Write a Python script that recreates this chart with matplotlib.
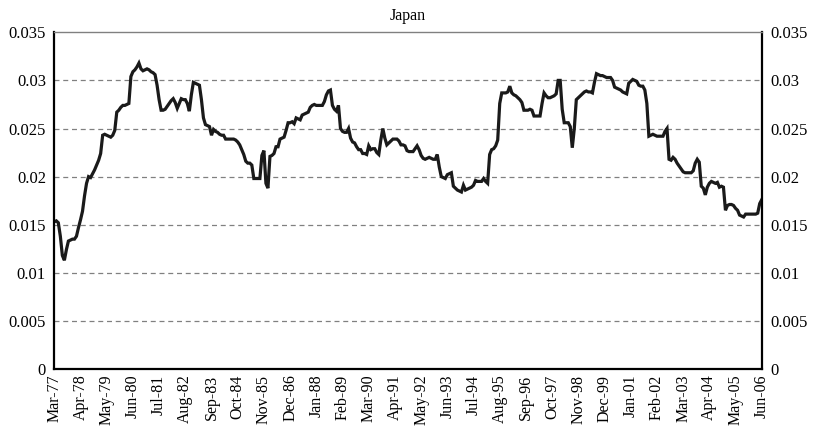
import matplotlib
matplotlib.use("Agg")
import matplotlib.pyplot as plt

# monthly values, Mar-77 .. Jun-06
values = [
    0.0153, 0.0154, 0.0152, 0.0138, 0.0118, 0.0113, 0.0124, 0.0133, 0.0134, 0.0135, 0.0135, 0.0138,
    0.0147, 0.0155, 0.0164, 0.0180, 0.0193, 0.0200, 0.0199, 0.0203, 0.0207, 0.0212, 0.0217, 0.0224,
    0.0243, 0.0244, 0.0243, 0.0242, 0.0241, 0.0243, 0.0248, 0.0267, 0.0269, 0.0272, 0.0274, 0.0274,
    0.0275, 0.0276, 0.0304, 0.0309, 0.0311, 0.0314, 0.0318, 0.0312, 0.0310, 0.0311, 0.0312, 0.0311,
    0.0309, 0.0308, 0.0306, 0.0295, 0.0280, 0.0269, 0.0269, 0.0270, 0.0273, 0.0276, 0.0279, 0.0281,
    0.0277, 0.0271, 0.0276, 0.0281, 0.0280, 0.0280, 0.0276, 0.0268, 0.0285, 0.0298, 0.0297, 0.0296,
    0.0295, 0.0280, 0.0261, 0.0254, 0.0253, 0.0252, 0.0243, 0.0249, 0.0247, 0.0246, 0.0244, 0.0243,
    0.0243, 0.0239, 0.0239, 0.0239, 0.0239, 0.0239, 0.0238, 0.0236, 0.0233, 0.0228, 0.0223, 0.0216,
    0.0214, 0.0214, 0.0212, 0.0198, 0.0198, 0.0198, 0.0198, 0.0222, 0.0227, 0.0193, 0.0188, 0.0221,
    0.0222, 0.0224, 0.0231, 0.0231, 0.0239, 0.0240, 0.0241, 0.0248, 0.0256, 0.0256, 0.0257, 0.0255,
    0.0261, 0.0260, 0.0259, 0.0264, 0.0265, 0.0266, 0.0267, 0.0272, 0.0274, 0.0275, 0.0274, 0.0274,
    0.0274, 0.0274, 0.0278, 0.0285, 0.0289, 0.0290, 0.0274, 0.0270, 0.0268, 0.0274, 0.0250, 0.0247,
    0.0246, 0.0246, 0.0250, 0.0240, 0.0236, 0.0235, 0.0231, 0.0228, 0.0228, 0.0224, 0.0224, 0.0223,
    0.0232, 0.0228, 0.0229, 0.0229, 0.0225, 0.0223, 0.0238, 0.0250, 0.0240, 0.0233, 0.0235, 0.0237,
    0.0239, 0.0239, 0.0239, 0.0237, 0.0233, 0.0233, 0.0232, 0.0227, 0.0226, 0.0226, 0.0226, 0.0229,
    0.0232, 0.0228, 0.0222, 0.0219, 0.0218, 0.0219, 0.0220, 0.0219, 0.0218, 0.0218, 0.0223, 0.0210,
    0.0200, 0.0199, 0.0198, 0.0202, 0.0203, 0.0204, 0.0190, 0.0188, 0.0186, 0.0185, 0.0184, 0.0191,
    0.0186, 0.0187, 0.0188, 0.0189, 0.0191, 0.0196, 0.0195, 0.0195, 0.0195, 0.0198, 0.0195, 0.0193,
    0.0223, 0.0228, 0.0229, 0.0232, 0.0238, 0.0276, 0.0287, 0.0287, 0.0287, 0.0288, 0.0294, 0.0287,
    0.0285, 0.0284, 0.0282, 0.0280, 0.0277, 0.0269, 0.0269, 0.0269, 0.0270, 0.0269, 0.0263, 0.0263,
    0.0263, 0.0263, 0.0276, 0.0287, 0.0284, 0.0282, 0.0282, 0.0283, 0.0284, 0.0286, 0.0300, 0.0300,
    0.0270, 0.0256, 0.0256, 0.0256, 0.0252, 0.0230, 0.0250, 0.0280, 0.0282, 0.0284, 0.0286, 0.0288,
    0.0289, 0.0288, 0.0288, 0.0287, 0.0298, 0.0307, 0.0306, 0.0305, 0.0305, 0.0304, 0.0303, 0.0303,
    0.0303, 0.0300, 0.0293, 0.0292, 0.0291, 0.0290, 0.0288, 0.0287, 0.0286, 0.0297, 0.0299, 0.0301,
    0.0300, 0.0299, 0.0295, 0.0294, 0.0294, 0.0290, 0.0276, 0.0242, 0.0243, 0.0244, 0.0243, 0.0242,
    0.0242, 0.0242, 0.0242, 0.0247, 0.0250, 0.0218, 0.0217, 0.0220, 0.0218, 0.0214, 0.0211, 0.0208,
    0.0205, 0.0204, 0.0204, 0.0204, 0.0204, 0.0206, 0.0214, 0.0218, 0.0215, 0.0190, 0.0188, 0.0181,
    0.0189, 0.0193, 0.0195, 0.0194, 0.0193, 0.0194, 0.0189, 0.0190, 0.0189, 0.0165, 0.0170, 0.0171,
    0.0171, 0.0170, 0.0167, 0.0165, 0.0160, 0.0159, 0.0158, 0.0161, 0.0161, 0.0161, 0.0161, 0.0161,
    0.0161, 0.0162, 0.0172, 0.0176,
]

tick_labels = ["Mar-77", "Apr-78", "May-79", "Jun-80", "Jul-81", "Aug-82", "Sep-83",
               "Oct-84", "Nov-85", "Dec-86", "Jan-88", "Feb-89", "Mar-90", "Apr-91",
               "May-92", "Jun-93", "Jul-94", "Aug-95", "Sep-96", "Oct-97", "Nov-98",
               "Dec-99", "Jan-01", "Feb-02", "Mar-03", "Apr-04", "May-05", "Jun-06"]

y_ticks = [0, 0.005, 0.01, 0.015, 0.02, 0.025, 0.03, 0.035]
y_labels = ["0", "0.005", "0.01", "0.015", "0.02", "0.025", "0.03", "0.035"]

plt.rcParams["font.family"] = ["Liberation Serif", "DejaVu Serif"]

fig = plt.figure(figsize=(8.14, 4.33), dpi=100)
ax = fig.add_axes([0.0667, 0.1478, 0.8691, 0.7776])

months = list(range(len(values)))
ax.plot(months, values, color="#1a1a1a", linewidth=2.3, solid_joinstyle="miter")

ax.set_xlim(0, len(values) - 1)
ax.set_ylim(0, 0.035)

ax.set_xticks([i * 13 for i in range(len(tick_labels))])
ax.set_xticklabels(tick_labels, rotation=90, fontsize=11.5)
ax.set_yticks(y_ticks)
ax.set_yticklabels(y_labels, fontsize=12)
ax.tick_params(axis="both", length=0)
ax.tick_params(axis="y", pad=6, labelright=True, right=False)
ax.tick_params(axis="x", pad=4)

for v in y_ticks[1:-1]:
    ax.axhline(v, color="#808080", linestyle=(0, (4, 3)), linewidth=0.9, zorder=0)

for side in ["left", "right", "bottom"]:
    ax.spines[side].set_color("black")
    ax.spines[side].set_linewidth(1.6)
ax.spines["top"].set_color("#808080")
ax.spines["top"].set_linewidth(1.0)

ax.set_title("Japan", fontsize=11.5, pad=9)

fig.savefig("out.png", dpi=100)
